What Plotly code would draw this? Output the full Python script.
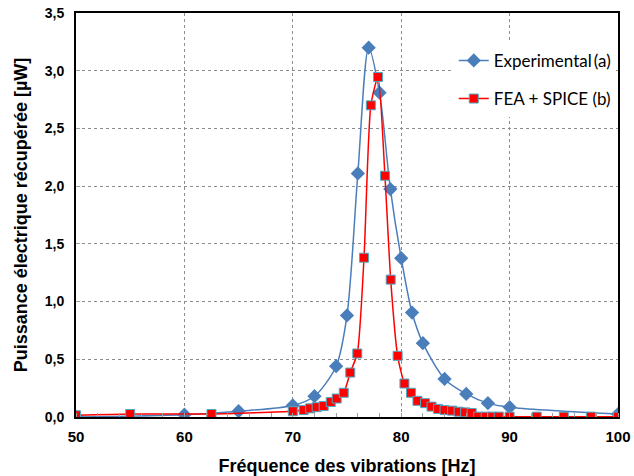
import plotly.graph_objects as go

exp_x = [50, 60, 65, 70, 72, 74, 75, 76, 77, 78, 79, 80, 81, 82, 84, 86, 88, 90, 100]
exp_y = [0.0, 0.02, 0.05, 0.10, 0.18, 0.44, 0.88, 2.11, 3.20, 2.81, 1.975, 1.376, 0.905, 0.64, 0.33, 0.20, 0.12, 0.085, 0.025]

fea_x = [50, 55, 62.5, 70, 71, 71.6, 72.2, 72.85, 73.5, 74.05, 74.7, 75.3, 75.95, 76.57, 77.2,
         77.86, 78.5, 79.03, 79.67, 80.3, 80.9, 81.5, 82.2, 82.8, 83.4, 84.0, 84.7, 85.3, 85.9,
         86.5, 87.1, 87.8, 88.4, 89.0, 90, 92.5, 95, 97.5, 100]
fea_y = [0.015, 0.026, 0.026, 0.05, 0.06, 0.075, 0.085, 0.095, 0.13, 0.16, 0.21, 0.385, 0.55, 1.38, 2.70,
         2.946, 2.09, 1.19, 0.53, 0.29, 0.21, 0.14, 0.12, 0.09, 0.07, 0.06, 0.055, 0.046, 0.04,
         0.035, 0.003, 0.003, 0.003, 0.003, 0.003, 0.003, 0.003, 0.003, 0.003]

x_ticks = [50, 60, 70, 80, 90, 100]
y_ticks = [0, 0.5, 1.0, 1.5, 2.0, 2.5, 3.0, 3.5]
y_ticktext = ["0,0", "0,5", "1,0", "1,5", "2,0", "2,5", "3,0", "3,5"]

fig = go.Figure()
fig.add_trace(go.Scatter(
    x=exp_x, y=exp_y, mode="lines+markers", name="Experimental\u2009(a)",
    legendgroup="a",
    line=dict(color="#4A7EBB", width=1.5, shape="spline", smoothing=0.8),
    marker=dict(symbol="diamond", size=11, color="#4A7EBB", line=dict(width=0)),
))
fig.add_trace(go.Scatter(
    x=fea_x, y=fea_y, mode="lines+markers", name="FEA + SPICE (b)",
    legendgroup="b",
    line=dict(color="#FF0000", width=1.5, shape="spline", smoothing=0.6),
    marker=dict(symbol="square", size=9, color="#FF0000", line=dict(width=1, color="#4BACC6")),
))

fig.update_layout(
    width=634, height=476,
    margin=dict(l=76, r=16, t=13, b=59, autoexpand=False),
    paper_bgcolor="white", plot_bgcolor="white",
    font=dict(family="Liberation Sans, Arial", color="black"),
    showlegend=True,
    legend=dict(
        x=0.697, y=0.926, xanchor="left", yanchor="top",
        bgcolor="white", borderwidth=0,
        font=dict(family="Lato, Open Sans", size=17, color="black"),
        traceorder="grouped", tracegroupgap=13,
        itemwidth=30,
    ),
    xaxis=dict(
        range=[50, 100], tickvals=x_ticks, automargin=False,
        showgrid=True, gridcolor="#8C8C8C", griddash="3px,3px", gridwidth=1,
        showline=True, linecolor="black", linewidth=2, mirror=True,
        ticks="", zeroline=False, ticklabelstandoff=5,
        minor=dict(dtick=2, ticks="inside", ticklen=4, tickcolor="#A0A0A0", showgrid=False),
        tickfont=dict(family="Liberation Sans, Arial", size=15, color="black", weight="bold"),
        title=dict(text="<b>Fréquence des vibrations [Hz]</b>",
                   font=dict(family="Liberation Sans, Arial", size=18, color="black"),
                   standoff=18),
    ),
    yaxis=dict(
        range=[0, 3.5], tickvals=y_ticks, ticktext=y_ticktext, automargin=False,
        showgrid=True, gridcolor="#8C8C8C", griddash="3px,3px", gridwidth=1,
        showline=True, linecolor="black", linewidth=2, mirror=True,
        ticks="inside", ticklen=4, tickcolor="#A0A0A0", zeroline=False,
        ticklabelstandoff=7,
        tickfont=dict(family="Liberation Sans, Arial", size=14, color="black", weight="bold"),
        title=dict(text="<b>Puissance électrique récupérée [µW]</b>",
                   font=dict(family="Liberation Sans, Arial", size=18, color="black"),
                   standoff=12),
    ),
)

fig.write_html("out.html", config={"displayModeBar": False},
               post_script="document.body.style.margin='0';document.body.style.overflow='hidden';")
